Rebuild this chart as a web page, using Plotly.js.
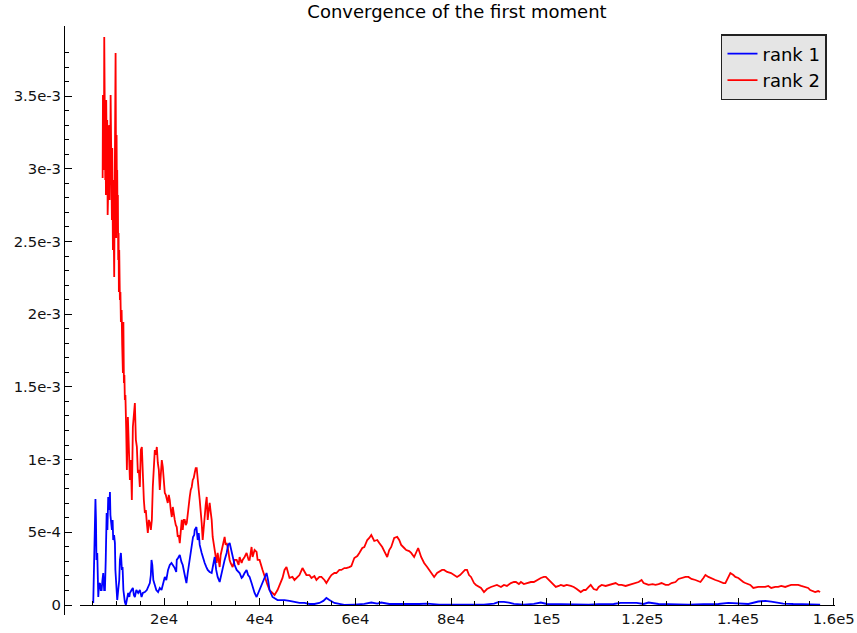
<!DOCTYPE html>
<html><head><meta charset="utf-8">
<script src="https://cdn.plot.ly/plotly-3.0.1.min.js"></script>
<style>html,body{margin:0;padding:0;background:#fff}#chart{width:857px;height:633px}</style>
</head><body><div id="chart"></div>
<script>
const rank1X = [
5190,5380,5550,5650,5760,5860,6030,6240,6380,6590,
6760,6940,7110,7280,7470,7630,7800,7990,8150,8320,
8510,8680,8780,8880,9090,9240,9360,9550,9720,9820,
9930,10070,10200,10410,10620,10760,10970,11180,11320,11490,
11660,11800,12010,12220,12490,12740,12850,13200,13470,13680,
13890,14200,14580,14930,15290,15560,15980,16390,16660,17020,
17230,17370,17540,17750,18060,18370,18750,19100,19460,19730,
20150,20460,20830,21190,21540,21820,22230,22540,22650,22920,
23280,23630,23900,24320,24670,24940,25360,25570,25780,26050,
26300,26400,26760,27030,27240,27450,27860,28130,28490,28840,
29120,29530,29950,30260,30580,30890,31200,31620,31930,32250,
32660,33080,33390,33710,34020,34330,34750,35170,35790,36210,
36420,36830,37250,37560,37880,38290,38500,38920,39340,39750,
40170,40590,41000,41420,41730,42050,42670,43090,43720,44550,
45180,46220,47260,48300,49350,50390,51430,52470,53300,53930,
54560,55600,56640,57690,59770,61860,63320,64570,65400,67070,
69160,71240,73330,75000,77500,80630,83750,86880,88970,90010,
91050,92100,93140,95220,97310,98770,100020,102520,105650,108780,
110870,113990,115450,117120,118790,120250,121290,123380,126510,129630,
132760,135890,137980,140060,142150,144230,145690,146940,149450,151530,
154660,157160];
const rank1Y = [
0.000014,0.000310,0.000516,0.000729,0.000585,0.000310,0.000358,0.000055,0.000138,0.000151,
0.000103,0.000103,0.000172,0.000220,0.000103,0.000103,0.000310,0.000633,0.000516,0.000743,
0.000653,0.000777,0.000619,0.000585,0.000516,0.000585,0.000447,0.000481,0.000426,0.000241,
0.000172,0.000103,0.000034,0.000103,0.000172,0.000310,0.000358,0.000241,0.000261,0.000103,
0.000034,0.000021,0,0.000048,0.000083,0.000055,0.000083,0.000103,0.000117,0.000069,
0.000055,0.000103,0.000083,0.000103,0.000055,0.000083,0.000089,0.000103,0.000124,0.000151,
0.000206,0.000310,0.000275,0.000172,0.000138,0.000103,0.000089,0.000117,0.000103,0.000138,
0.000193,0.000172,0.000241,0.000275,0.000289,0.000275,0.000254,0.000227,0.000310,0.000323,
0.000344,0.000296,0.000275,0.000206,0.000151,0.000220,0.000310,0.000358,0.000399,0.000468,
0.000481,0.000516,0.000536,0.000447,0.000495,0.000413,0.000358,0.000323,0.000289,0.000261,
0.000241,0.000227,0.000220,0.000275,0.000330,0.000241,0.000193,0.000158,0.000206,0.000261,
0.000310,0.000358,0.000413,0.000426,0.000378,0.000330,0.000275,0.000241,0.000220,0.000186,
0.000193,0.000220,0.000241,0.000206,0.000193,0.000151,0.000124,0.000083,0.000055,0.000089,
0.000117,0.000158,0.000193,0.000220,0.000172,0.000103,0.000055,0.000048,0.000034,0.000034,
0.000034,0.000028,0.000021,0.000014,0.000014,0.000007,0.000007,0.000014,0.000028,0.000048,
0.000034,0.000014,0.000007,0,0.000003,0.000007,0.000017,0.000010,0.000017,0.000007,
0.000007,0.000005,0.000007,0.000010,0.000003,0.000003,0.000003,0.000003,0.000010,0.000021,
0.000021,0.000017,0.000007,0.000003,0.000007,0.000017,0.000007,0.000005,0.000003,0.000003,
0.000005,0.000007,0.000015,0.000017,0.000014,0.000007,0.000017,0.000007,0.000003,0.000003,
0.000005,0.000007,0.000014,0.000012,0.000007,0.000024,0.000028,0.000023,0.000010,0.000007,
0.000005,0.000003];

const rank2X = [
7150,7220,7280,7360,7420,7490,7570,7630,7700,7780,
7840,7900,7990,8050,8110,8200,8260,8320,8400,8470,
8530,8610,8680,8740,8820,8880,8950,9030,9090,9160,
9240,9300,9360,9450,9570,9660,9720,9860,9930,9990,
10070,10140,10200,10280,10340,10410,10490,10550,10620,10700,
10760,10870,10970,11120,11240,11390,11490,11600,11700,11800,
11910,12080,12220,12430,12640,12850,13060,13260,13470,13680,
13890,14100,14310,14520,14720,14930,15140,15350,15560,15770,
15980,16180,16390,16600,16810,17020,17230,17440,17640,17850,
18060,18270,18480,18690,18900,19100,19310,19520,19730,19940,
20150,20360,20560,20770,20980,21190,21400,21610,21820,22020,
22230,22440,22650,22860,23070,23280,23480,23690,23900,24110,
24320,24530,24740,24940,25150,25360,25570,25780,25990,26200,
26400,26610,26820,27030,27240,27450,27660,27860,28070,28280,
28490,28700,28910,29120,29330,29530,29740,29950,30160,30370,
30580,30790,30990,31200,31410,31620,31830,32040,32250,32450,
32660,32870,33080,33290,33500,33710,33910,34120,34330,34750,
35170,35580,35790,36210,36420,36830,37250,37670,37880,38290,
38500,38920,39340,39550,39960,40590,41000,41630,42050,42670,
43090,43720,44130,44760,45180,45590,46220,46840,47260,47890,
48300,48930,49350,49760,50390,50810,51430,51850,52470,52890,
53520,53930,54560,54980,55600,56020,56640,57060,57690,58100,
58730,59150,59770,60400,60820,61440,61860,62480,62900,63320,
63940,64570,64990,65610,66030,66650,67070,67490,68110,68740,
69160,69570,70200,70620,71240,71660,72280,72700,73120,73740,
74370,75000,75410,76040,76460,77080,77500,78120,78540,79170,
80000,80630,81250,81880,82290,82920,83340,83750,84170,84800,
85210,85840,86260,86880,87510,88340,88970,89590,90430,91050,
91680,92510,93140,93560,94180,94600,95220,95850,96680,97310,
97940,98770,99400,99810,100440,100860,101480,101900,102520,102940,
103570,104190,105030,105650,106280,107110,107740,108150,108780,109200,
109820,110450,110870,111490,112320,112950,113780,114410,115040,115660,
116500,117120,117960,118580,119210,119830,120250,120880,121290,122130,
122750,123380,124000,124840,125460,126090,126920,127550,128170,129010,
129630,130260,131090,131720,132140,132760,133180,133800,134220,134850,
135260,135890,136310,136930,137350,137980,138390,139020,139440,140060,
140480,141100,141520,142150,142560,143190,143810,144230,144860,145690,
146320,146940,147780,148400,149030,149860,150490,151110,151950,152570,
153200,154030,154660,155080,155700,156120,156740,157160];
const rank2Y = [
0.002937,0.003508,0.003061,0.003336,0.002992,0.003907,0.003198,0.003625,0.002923,0.003405,
0.002820,0.003473,0.003129,0.002958,0.003336,0.002682,0.003198,0.002854,0.003267,0.002992,
0.003301,0.002786,0.003129,0.002923,0.003508,0.003198,0.002841,0.003129,0.002648,0.003143,
0.002786,0.002442,0.002923,0.002524,0.002256,0.002786,0.003061,0.003797,0.003129,0.002524,
0.003233,0.002786,0.002992,0.002559,0.002820,0.002373,0.002559,0.002153,0.002442,0.002235,
0.002098,0.002153,0.001946,0.002029,0.001788,0.001596,0.001946,0.001527,0.001582,0.001410,
0.001444,0.001204,0.000929,0.001293,0.001100,0.000860,0.000997,0.000722,0.001224,0.001341,
0.001389,0.001135,0.001087,0.000908,0.000929,0.000812,0.001066,0.001087,0.000839,0.000722,
0.000633,0.000653,0.000564,0.000495,0.000585,0.000564,0.000516,0.000585,0.000812,0.000929,
0.001066,0.001032,0.001087,0.000977,0.000929,0.000791,0.000942,0.000997,0.000949,0.000860,
0.000770,0.000757,0.000722,0.000702,0.000757,0.000722,0.000653,0.000605,0.000674,0.000619,
0.000585,0.000550,0.000536,0.000468,0.000481,0.000426,0.000516,0.000585,0.000516,0.000585,
0.000585,0.000550,0.000564,0.000633,0.000688,0.000743,0.000791,0.000812,0.000860,0.000874,
0.000908,0.000942,0.000942,0.000839,0.000791,0.000722,0.000653,0.000564,0.000447,0.000550,
0.000633,0.000688,0.000743,0.000585,0.000653,0.000702,0.000640,0.000585,0.000468,0.000413,
0.000358,0.000323,0.000289,0.000358,0.000310,0.000261,0.000344,0.000378,0.000399,0.000447,
0.000468,0.000413,0.000426,0.000399,0.000344,0.000310,0.000289,0.000275,0.000261,0.000310,
0.000310,0.000275,0.000330,0.000289,0.000310,0.000330,0.000358,0.000310,0.000310,0.000399,
0.000330,0.000378,0.000365,0.000310,0.000310,0.000241,0.000193,0.000138,0.000103,0.000083,
0.000069,0.000103,0.000138,0.000186,0.000241,0.000261,0.000186,0.000193,0.000172,0.000193,
0.000206,0.000254,0.000227,0.000206,0.000206,0.000186,0.000199,0.000172,0.000193,0.000193,
0.000172,0.000151,0.000186,0.000206,0.000220,0.000220,0.000241,0.000241,0.000254,0.000254,
0.000261,0.000268,0.000323,0.000337,0.000358,0.000392,0.000399,0.000447,0.000461,0.000481,
0.000440,0.000447,0.000426,0.000399,0.000371,0.000330,0.000378,0.000399,0.000461,0.000468,
0.000447,0.000413,0.000392,0.000378,0.000371,0.000358,0.000330,0.000365,0.000392,0.000330,
0.000289,0.000261,0.000241,0.000213,0.000193,0.000220,0.000227,0.000241,0.000241,0.000227,
0.000220,0.000206,0.000193,0.000206,0.000220,0.000241,0.000241,0.000206,0.000193,0.000151,
0.000138,0.000124,0.000117,0.000089,0.000110,0.000124,0.000131,0.000138,0.000124,0.000138,
0.000131,0.000151,0.000158,0.000158,0.000144,0.000158,0.000144,0.000151,0.000158,0.000158,
0.000172,0.000186,0.000193,0.000193,0.000172,0.000158,0.000138,0.000124,0.000131,0.000138,
0.000131,0.000138,0.000131,0.000124,0.000110,0.000089,0.000103,0.000103,0.000124,0.000138,
0.000110,0.000103,0.000124,0.000138,0.000131,0.000138,0.000144,0.000151,0.000138,0.000138,
0.000131,0.000138,0.000144,0.000151,0.000158,0.000172,0.000151,0.000144,0.000138,0.000144,
0.000138,0.000144,0.000151,0.000138,0.000138,0.000151,0.000158,0.000179,0.000186,0.000193,
0.000193,0.000179,0.000172,0.000165,0.000158,0.000186,0.000206,0.000193,0.000186,0.000179,
0.000172,0.000165,0.000158,0.000151,0.000151,0.000193,0.000220,0.000206,0.000193,0.000186,
0.000172,0.000158,0.000151,0.000144,0.000138,0.000117,0.000124,0.000124,0.000124,0.000124,
0.000131,0.000117,0.000124,0.000124,0.000131,0.000124,0.000131,0.000138,0.000138,0.000138,
0.000131,0.000124,0.000117,0.000103,0.000096,0.000089,0.000096,0.000089];

const xTickVals = [20000,40000,60000,80000,100000,120000,140000,160000];
const xTickText = ['2e4','4e4','6e4','8e4','1e5','1.2e5','1.4e5','1.6e5'];
const yTickVals = [0,0.0005,0.001,0.0015,0.002,0.0025,0.003,0.0035];
const yTickText = ['0','5e-4','1e-3','1.5e-3','2e-3','2.5e-3','3e-3','3.5e-3'];
const seriesNames = ['rank 1','rank 2'];
const seriesColors = ['#0000ff','#ff0000'];

const yMinor = [];
for (let i = 1; i <= 38; i++) { if (i % 5 !== 0) yMinor.push(i * 0.0001); }

const traces = [
  {type:'scatter', mode:'lines', name:seriesNames[1], x:rank2X, y:rank2Y,
   line:{color:seriesColors[1], width:1.8}, hoverinfo:'skip'},
  {type:'scatter', mode:'lines', name:seriesNames[0], x:rank1X, y:rank1Y,
   line:{color:seriesColors[0], width:1.8}, hoverinfo:'skip'}
];

const layout = {
  width:857, height:633,
  paper_bgcolor:'#ffffff', plot_bgcolor:'rgba(0,0,0,0)',
  margin:{l:64, r:22, t:26, b:18, pad:0},
  font:{family:'DejaVu Sans, sans-serif', size:14, color:'#111'},
  title:{text:'Convergence of the first moment', font:{size:18, color:'#000', family:'DejaVu Sans, sans-serif'},
         x:0.5097, xref:'paper', xanchor:'center', y:0.981, yref:'container', yanchor:'middle'},
  showlegend:true,
  legend:{x:0.9896, xanchor:'right', y:0.9864, yanchor:'top', bgcolor:'#e5e5e5', bordercolor:'#222',
          borderwidth:1.5, font:{size:18, color:'#000'}, itemwidth:30, traceorder:'reversed', tracegroupgap:0},
  xaxis:{domain:[0.02075,1], range:[2419,160270], anchor:'free', position:0.01698,
         showline:true, linecolor:'#000', linewidth:1.2, showgrid:false, zeroline:false,
         ticks:'inside', ticklen:7, tickwidth:1, tickcolor:'#000',
         tickmode:'array', tickvals:xTickVals, ticktext:xTickText, tickfont:{size:14.8, color:'#111'},
         minor:{ticks:'inside', ticklen:4, tickwidth:1, tickcolor:'#000', tickmode:'linear', tick0:0, dtick:5000, showgrid:false}},
  yaxis:{domain:[0,1], range:[-0.0000688,0.003982], anchor:'free', position:0,
         showline:true, linecolor:'#000', linewidth:1.2, showgrid:false, zeroline:false,
         ticks:'inside', ticklen:7, tickwidth:1, tickcolor:'#000',
         tickmode:'array', tickvals:yTickVals, ticktext:yTickText, tickfont:{size:14.8, color:'#111'},
         minor:{ticks:'inside', ticklen:4, tickwidth:1, tickcolor:'#000', tickmode:'array', tickvals:yMinor, showgrid:false}}
};

Plotly.newPlot('chart', traces, layout, {displayModeBar:false, staticPlot:true});
</script>
</body></html>
